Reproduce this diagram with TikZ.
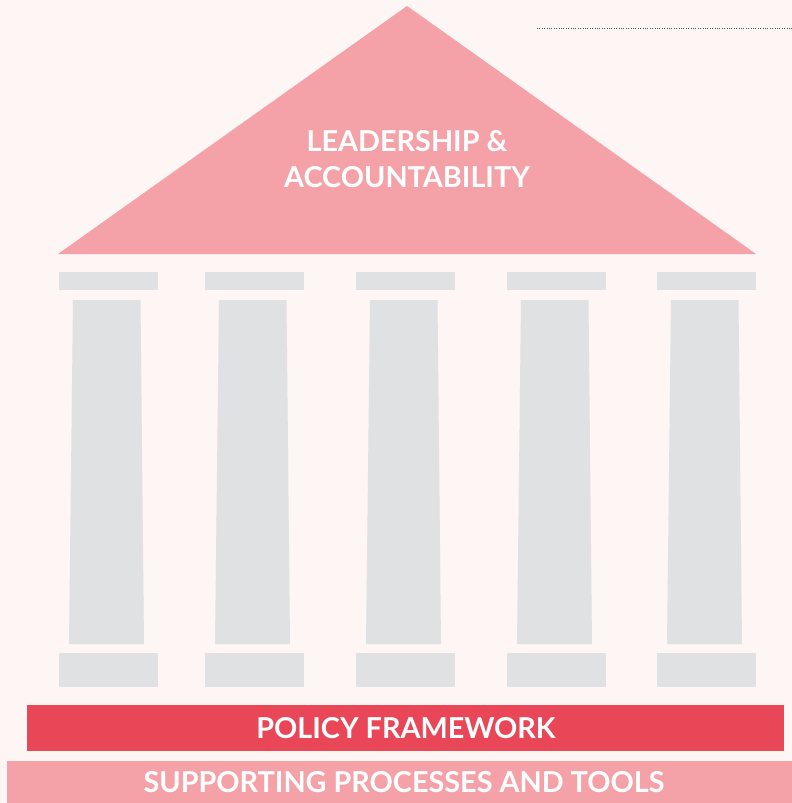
\documentclass[tikz,border=0pt]{standalone}
\usepackage{fontspec}
\setmainfont{Lato}
\definecolor{bgpink}{HTML}{FEF5F5}
\definecolor{roofpink}{HTML}{F4A2A8}
\definecolor{colgray}{HTML}{E0E1E3}
\definecolor{policyred}{HTML}{E94658}
\definecolor{dotgray}{HTML}{555555}
\tikzset{
  capblock/.style={fill=colgray, draw=none},
  shaft/.style={fill=colgray, draw=none},
  label/.style={text=white, font=\bfseries\fontsize{28.8}{36}\selectfont, align=center, inner sep=0pt},
}
\begin{document}
\begin{tikzpicture}[x=1pt,y=-1pt]
\useasboundingbox (0,0) rectangle (792,803);
\fill[bgpink] (0,0) rectangle (792,803);
% dotted line
\coordinate (dotA) at (537,28);
\coordinate (dotB) at (792,28);
\draw[dotgray, line width=0.8pt, dash pattern=on 0.8pt off 1.6pt] (dotA) -- (dotB);
% roof
\fill[roofpink] (58,254) -- (407,6) -- (756,254) -- cycle;
\node[label] (roof) at (407,159) {LEADERSHIP \&\\ACCOUNTABILITY};
% columns
\foreach \cx/\i in {108.5/1,254.5/2,405.5/3,556.5/4,706.5/5}{
  \fill[capblock] (\cx-49.5,272) rectangle (\cx+49.5,290);
  \fill[shaft] (\cx-35.5,300) -- (\cx+32,300) -- (\cx+35.5,644) -- (\cx-39.5,644) -- cycle;
  \fill[capblock] (\cx-49.5,653) rectangle (\cx+49.5,687);
}
% bars
\fill[policyred] (27,705) rectangle (784,751);
\node[label] (policy) at (406,728) {POLICY FRAMEWORK};
\fill[roofpink] (7,761) rectangle (792,803);
\node[label] (support) at (404,782) {SUPPORTING PROCESSES AND TOOLS};
\end{tikzpicture}
\end{document}
